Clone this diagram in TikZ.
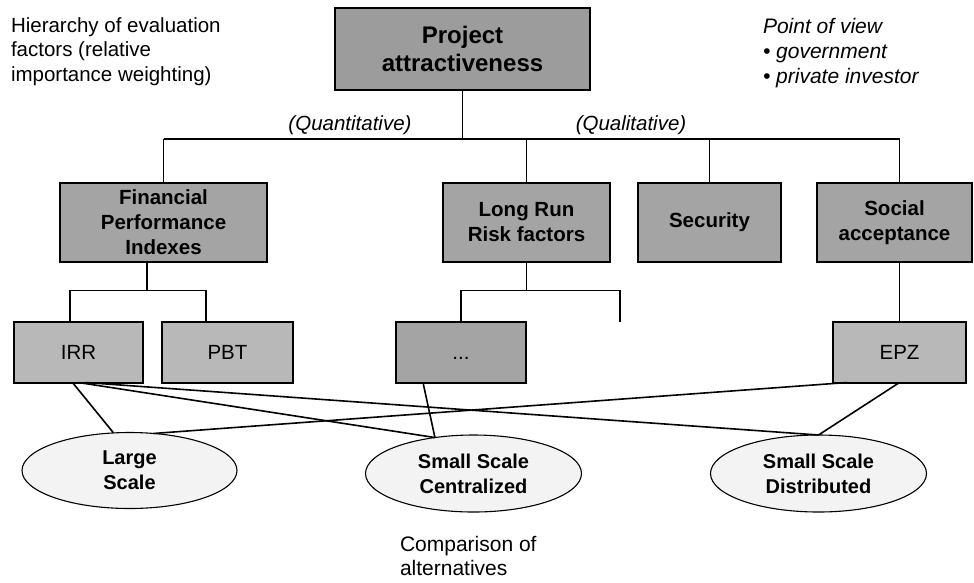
\documentclass[tikz,border=0pt]{standalone}
\usepackage{fontspec}
\setmainfont{Liberation Sans}
\usetikzlibrary{shapes.geometric,calc}
\definecolor{boxA}{HTML}{9C9C9C}
\definecolor{boxB}{HTML}{A4A4A4}
\definecolor{boxC}{HTML}{B8B8B8}
\definecolor{ellF}{HTML}{F3F3F3}
\begin{document}
\begin{tikzpicture}[x=1pt,y=-1pt,
  every node/.style={inner sep=0pt, outer sep=0pt},
  topbox/.style={draw, line width=2pt, fill=boxA, align=center,
    minimum width=255pt, minimum height=82pt,
    font=\fontsize{24}{28}\selectfont\bfseries},
  midbox/.style={draw, line width=2pt, fill=boxB, align=center,
    minimum height=79pt, font=\fontsize{20.5}{25}\selectfont\bfseries},
  lowbox/.style={draw, line width=2pt, fill=boxC, align=center,
    minimum height=61pt, font=\fontsize{20.5}{25}\selectfont},
  alt/.style={ellipse, draw, line width=1.1pt, fill=ellF, align=center,
    minimum width=216pt, minimum height=77pt,
    font=\fontsize{20}{25}\selectfont\bfseries},
  conn/.style={line width=1.6pt},
  note/.style={align=left, font=\fontsize{20.5}{24.5}\selectfont},
  inote/.style={align=left, font=\fontsize{21}{25}\selectfont\itshape}
]
\useasboundingbox (0,0) rectangle (974,582);

% top
\node[topbox] (top) at (462.5,49) {Project\\attractiveness};

% level 2
\node[midbox, minimum width=207pt] (fin) at (163.5,222.5) {Financial\\Performance\\Indexes};
\node[midbox, minimum width=167pt] (lr)  at (526.5,222.5) {Long Run\\Risk factors};
\node[midbox, minimum width=143pt] (sec) at (709.5,222.5) {Security};
\node[midbox, minimum width=155pt] (soc) at (894.5,222.5) {Social\\acceptance};

% level 3
\node[lowbox, minimum width=129pt] (irr)  at (78.5,352) {IRR};
\node[lowbox, minimum width=131pt] (pbt)  at (227.5,352) {PBT};
\node[lowbox, minimum width=130pt, fill=boxB] (dots) at (461,352) {};
\node[font=\fontsize{20.5}{25}\selectfont] (dotstext) at ([yshift=-6pt]dots.center) {...};
\node[lowbox, minimum width=133pt] (epz)  at (899.5,352) {EPZ};

% alternatives
\node[alt, minimum width=215pt, minimum height=76pt] (large) at (129.5,470.5) {Large\\Scale};
\node[alt] (cen)  at (473.5,473.5) {Small Scale\\Centralized};
\node[alt] (dist) at (818.5,473.5) {Small Scale\\Distributed};

% texts
\node[note, anchor=west] (hier) at (11,51.5) {Hierarchy of evaluation\\factors (relative\\importance weighting)};
\node[inote, anchor=west] (pov) at (763,53.5) {Point of view\\\textbullet\ government\\\textbullet\ private investor};
\node[font=\fontsize{20.5}{24}\selectfont\itshape] (quant) at (350,125) {(Quantitative)};
\node[font=\fontsize{20.5}{24}\selectfont\itshape] (qual) at (631,125) {(Qualitative)};
\node[align=left, font=\fontsize{21}{24.5}\selectfont, anchor=west] (comp) at (400,556) {Comparison of\\alternatives};

% tree connectors
\coordinate (hbar) at (463,139);
\coordinate (bend) at (620,322);
\draw[conn] (top.south) -- (top.south |- hbar);
\draw[conn] (fin.north |- hbar) -- (epz.north |- hbar);
\draw[conn] (fin.north |- hbar) -- (fin.north);
\draw[conn] (lr.north |- hbar) -- (lr.north);
\draw[conn] (sec.north |- hbar) -- (sec.north);
\draw[conn] (epz.north |- hbar) -- (epz.north |- soc.north);

\draw[conn] ([xshift=-16.5pt]fin.south) -- ++(0,29);
\draw[conn] ([xshift=-8.5pt]irr.north) -- ++(0,-31) -| ([xshift=-21.5pt]pbt.north);

\draw[conn] (lr.south) -- ++(0,29);
\draw[conn] (dots.north) -- ++(0,-31) -| (bend);

\draw[conn] (epz.north |- soc.south) -- (epz.north);

% alternatives connectors
\draw[conn] ([xshift=-6pt]irr.south) -- (large.113);
\draw[conn] (irr.south) -- (cen.137);
\draw[conn] ([xshift=7pt]irr.south) -- (dist.north);
\draw[conn] ([xshift=-38pt]dots.south) -- (cen.137);
\draw[conn] ([xshift=14pt]epz.south west) -- (large.57);
\draw[conn] (epz.south) -- (dist.north);
\end{tikzpicture}
\end{document}
